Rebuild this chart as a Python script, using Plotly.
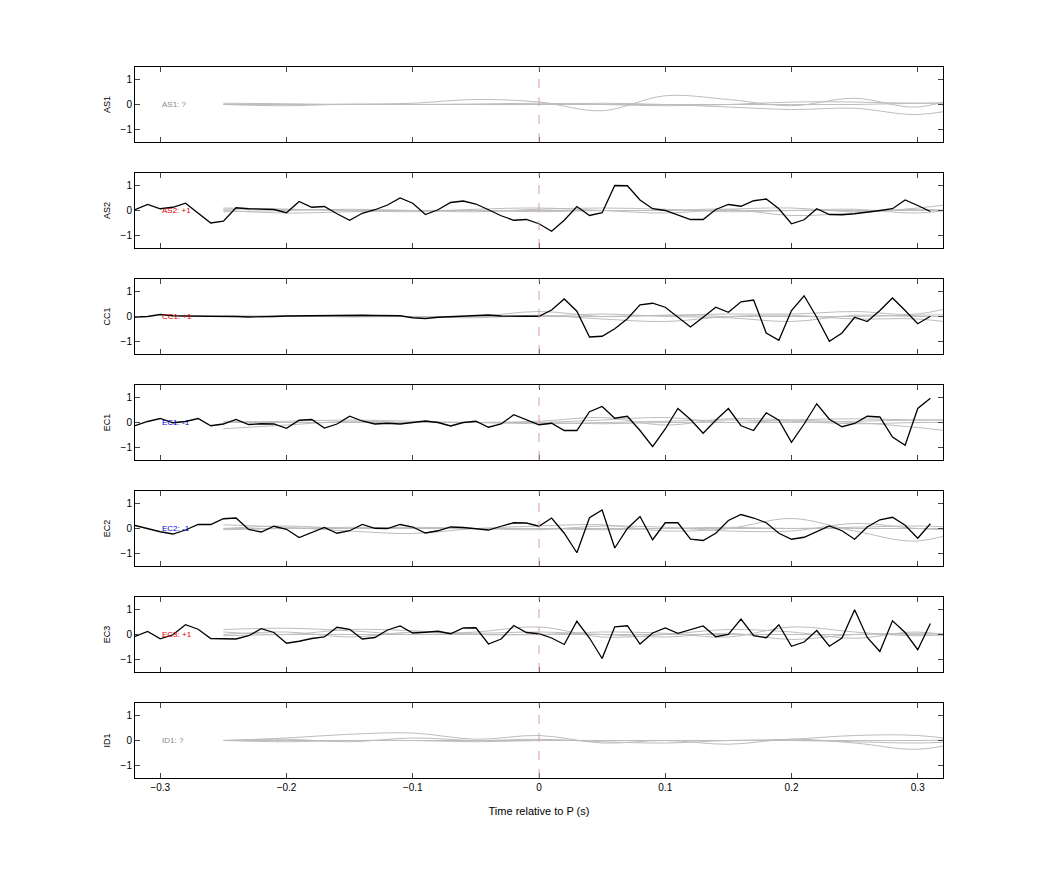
import numpy as np
import plotly.graph_objects as go
from plotly.subplots import make_subplots

channels = ["AS1", "AS2", "CC1", "EC1", "EC2", "EC3", "ID1"]
labels = ["AS1: ?", "AS2: +1", "CC1: +1", "EC1: -1", "EC2: -1", "EC3: +1", "ID1: ?"]
label_colors = ["#888888", "#dd0000", "#dd0000", "#0000cc", "#0000cc", "#dd0000", "#888888"]

t_black = np.round(np.arange(-0.32, 0.315, 0.01), 2)
t_grey = [-0.25, -0.2, -0.15, -0.1, -0.05, 0, 0.05, 0.1, 0.15, 0.2, 0.25, 0.3, 0.35]

black = {
    "AS2": [0.03, 0.24, 0.07, 0.13, 0.29, -0.11, -0.5, -0.43, 0.11, 0.07, 0.04, 0.04, -0.09, 0.36, 0.13, 0.16,
            -0.13, -0.39, -0.11, 0.03, 0.22, 0.5, 0.29, -0.16, 0.03, 0.32, 0.38, 0.26, 0.03, -0.21, -0.39, -0.36,
            -0.53, -0.83, -0.39, 0.16, -0.2, -0.09, 1.0, 0.99, 0.42, 0.07, 0.0, -0.17, -0.36, -0.36, 0.04, 0.24,
            0.17, 0.39, 0.46, 0.07, -0.53, -0.37, 0.07, -0.16, -0.17, -0.13, -0.08, 0.0, 0.07, 0.42, 0.2, -0.04],
    "CC1": [-0.02, 0.0, 0.08, 0.03, 0.02, 0.02, 0.02, 0.02, 0.0, -0.02, -0.02, 0.0, 0.02, 0.03, 0.03, 0.04,
            0.06, 0.05, 0.05, 0.04, 0.04, 0.03, -0.05, -0.08, -0.03, -0.01, 0.0, 0.02, 0.06, 0.02, 0.0, 0.01,
            0.01, 0.26, 0.7, 0.21, -0.82, -0.79, -0.49, -0.09, 0.47, 0.53, 0.37, -0.03, -0.42, -0.03, 0.37, 0.17,
            0.59, 0.66, -0.66, -0.95, 0.24, 0.83, -0.03, -0.99, -0.66, -0.03, -0.2, 0.24, 0.74, 0.24, -0.29, 0.01],
    "EC1": [-0.13, 0.04, 0.16, -0.01, 0.04, 0.16, -0.13, -0.06, 0.12, -0.08, -0.05, -0.06, -0.23, 0.09, 0.12, -0.22,
            -0.06, 0.25, 0.06, -0.06, -0.03, -0.06, 0.0, 0.06, 0.0, -0.14, 0.0, 0.05, -0.19, -0.06, 0.31, 0.12,
            -0.09, -0.03, -0.32, -0.32, 0.43, 0.64, 0.17, 0.25, -0.32, -0.97, -0.26, 0.56, 0.12, -0.43, 0.09, 0.56,
            -0.13, -0.32, 0.39, 0.09, -0.79, -0.06, 0.75, 0.13, -0.17, -0.04, 0.25, 0.22, -0.58, -0.91, 0.56, 0.97],
    "EC2": [0.12, -0.01, -0.13, -0.22, -0.06, 0.16, 0.16, 0.39, 0.42, -0.04, -0.14, 0.09, -0.03, -0.36, -0.17, 0.04,
            -0.19, -0.09, 0.16, 0.01, 0.0, 0.16, 0.06, -0.18, -0.09, 0.06, 0.04, 0.0, -0.06, 0.09, 0.23, 0.22,
            0.09, 0.42, -0.19, -0.97, 0.43, 0.74, -0.78, 0.0, 0.48, -0.45, 0.23, 0.23, -0.43, -0.48, -0.19, 0.32,
            0.56, 0.42, 0.23, -0.19, -0.43, -0.35, -0.13, 0.1, -0.09, -0.43, 0.06, 0.35, 0.45, 0.13, -0.39, 0.19],
    "EC3": [-0.08, 0.12, -0.17, -0.01, 0.39, 0.21, -0.16, -0.18, -0.18, -0.05, 0.23, 0.08, -0.35, -0.27, -0.16, -0.1,
            0.29, 0.21, -0.18, -0.12, 0.18, 0.34, 0.06, 0.09, 0.13, 0.03, 0.26, 0.27, -0.38, -0.18, 0.36, 0.08,
            0.03, -0.14, -0.4, 0.53, -0.14, -0.96, 0.31, 0.35, -0.38, 0.06, 0.26, 0.05, 0.21, 0.34, -0.09, 0.0,
            0.62, -0.05, -0.13, 0.39, -0.47, -0.3, 0.16, -0.47, -0.14, 0.99, -0.12, -0.68, 0.55, 0.08, -0.61, 0.44],
}

grey = {
    "AS1": [[0, 0, 0, 0.05, 0.2, 0.1, -0.25, 0.35, 0.2, -0.05, 0.25, -0.1, 0.6],
            [0, -0.05, 0.02, 0, 0, 0, 0.05, 0, -0.1, -0.2, -0.15, -0.4, 0],
            [0.05, 0.03, 0, 0, 0.02, 0.05, 0, -0.05, 0, 0.1, 0.1, 0.05, 0.1],
            [0, 0, 0, 0, 0, 0, 0, 0, 0, 0, 0, 0.05, 0.05]],
    "AS2": [[0.1, 0.05, 0, -0.05, 0.05, 0.1, 0, -0.1, 0.05, 0.1, -0.05, 0.1, 0.4],
            [-0.05, 0, 0.05, 0, -0.05, 0.05, 0.1, 0.05, -0.05, 0, 0.05, -0.1, 0.2],
            [0, -0.1, -0.05, 0, 0, -0.05, 0, 0, 0.05, -0.2, -0.1, 0.05, -0.1],
            [0.05, 0.05, 0, 0, 0, 0, 0, 0, 0, 0, 0, 0, 0]],
    "CC1": [[0, 0, 0, 0, 0, 0.2, 0, 0.05, 0.1, 0.1, 0.2, 0.1, 0.7],
            [0, 0.02, -0.02, 0, -0.05, 0.05, -0.1, -0.2, 0, 0.05, -0.1, -0.1, -0.4],
            [0, 0, 0, 0, 0, 0, 0.1, 0, -0.05, -0.2, 0.05, 0, 0],
            [0.02, 0.02, 0, 0, 0, 0, 0, 0.05, 0, 0, 0, 0.05, 0.1]],
    "EC1": [[-0.25, -0.1, 0.05, 0, 0, 0, 0.1, 0.2, 0, 0.1, 0.15, 0.1, 0.1],
            [0, 0.05, 0.1, 0.05, 0, 0.05, 0.2, -0.1, 0.15, 0.1, 0, -0.2, -0.5],
            [0.05, 0, 0, 0, 0, -0.05, 0, 0.05, 0.1, 0.05, -0.05, 0, 0],
            [0, 0, 0, 0, 0, 0, -0.05, 0, 0, 0, 0.05, 0.1, 0.1]],
    "EC2": [[0.15, 0.05, -0.1, -0.2, 0, 0.1, 0.15, -0.1, 0, 0.4, -0.1, -0.5, 0.2],
            [0, 0.1, 0, 0.05, 0, -0.05, 0.1, 0.05, -0.1, -0.1, 0.2, 0, -0.1],
            [-0.05, 0, 0.05, 0, 0, 0, -0.05, 0, 0.05, 0, 0.05, 0.1, 0],
            [0, 0, 0, 0, 0, 0, 0, 0, 0, 0, 0, 0, 0]],
    "EC3": [[0.2, 0.25, 0.15, 0, 0.1, 0.3, -0.1, 0, 0.2, 0.1, -0.15, 0.1, -0.3],
            [0.1, 0, 0.2, 0.15, 0, 0, 0.1, 0.05, -0.1, 0.3, 0.1, -0.05, 0.1],
            [0, 0.1, -0.1, 0.1, 0.05, 0.1, 0, -0.1, 0.05, -0.2, 0, 0, -0.1],
            [-0.05, 0, 0, 0, 0, 0, 0, 0, 0, 0, 0, 0.05, 0]],
    "ID1": [[0, 0.1, 0.25, 0.3, 0.05, 0.2, -0.1, 0, -0.15, 0.05, -0.1, -0.35, 0.1],
            [0, 0.05, -0.05, 0.1, 0, 0.05, -0.05, -0.1, 0, 0.05, 0.2, 0.2, -0.1],
            [0, -0.05, 0, 0, -0.05, 0, 0, 0, 0, 0, -0.05, -0.1, 0],
            [0, 0, 0, 0, 0, 0, 0, 0, 0, 0, 0, 0, 0.05]],
}

fig = make_subplots(rows=7, cols=1, shared_xaxes=True, vertical_spacing=31 / 711)

for i, ch in enumerate(channels):
    row = i + 1
    for g in grey[ch]:
        fig.add_trace(go.Scatter(x=t_grey, y=g, mode="lines", line=dict(color="#bdbdbd", width=1, shape="spline"),
                                 showlegend=False, hoverinfo="skip"), row=row, col=1)
    if ch in black:
        fig.add_trace(go.Scatter(x=t_black, y=black[ch], mode="lines", line=dict(color="black", width=1.3),
                                 showlegend=False), row=row, col=1)
    fig.add_vline(x=0, line=dict(color="#d8a0a0", width=1, dash="dash"), row=row, col=1)
    fig.add_annotation(x=-0.3, y=0, text=labels[i], showarrow=False, xanchor="left",
                       font=dict(size=8, color=label_colors[i]), row=row, col=1)
    fig.update_yaxes(title_text=ch, title_font=dict(size=9), title_standoff=8, range=[-1.5, 1.5],
                     tickvals=[-1, 0, 1], ticks="inside", ticklen=5, showline=True, mirror="ticks",
                     linecolor="black", linewidth=1, showgrid=False, zeroline=False, row=row, col=1)
    fig.update_xaxes(range=[-0.32, 0.32], tickvals=[-0.3, -0.2, -0.1, 0, 0.1, 0.2, 0.3],
                     ticks="inside", ticklen=5, showline=True, mirror="ticks", linecolor="black",
                     linewidth=1, showgrid=False, zeroline=False, row=row, col=1)

fig.update_xaxes(title_text="Time relative to P (s)", title_font=dict(size=11), row=7, col=1)

fig.update_layout(
    width=1042, height=875,
    margin=dict(l=127, r=107, t=59, b=105),
    plot_bgcolor="white", paper_bgcolor="white",
    font=dict(family="Liberation Sans, Arial", size=10, color="black"),
)

fig.write_html("out.html")
